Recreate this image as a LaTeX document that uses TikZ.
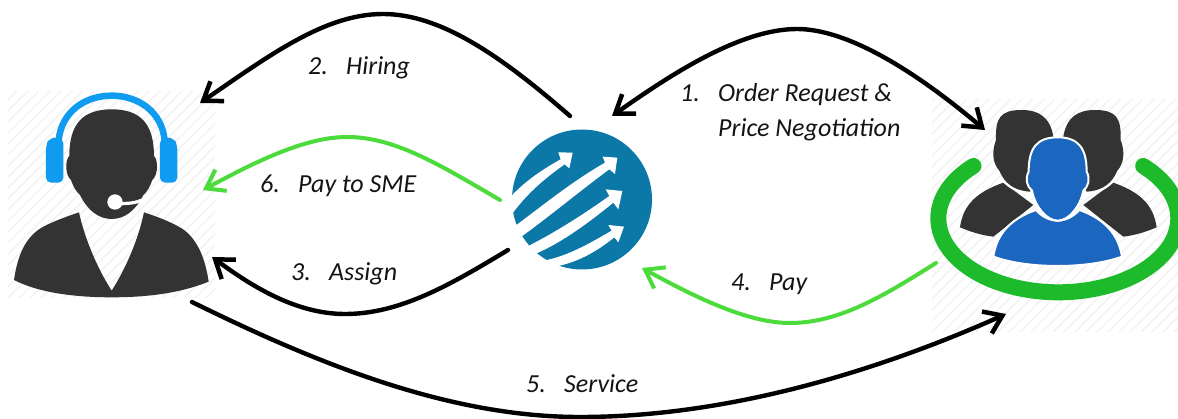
\documentclass[tikz,border=0pt]{standalone}
\usepackage{fontspec}
\setmainfont{Carlito}
\usetikzlibrary{arrows.meta}
\definecolor{dark}{HTML}{333333}
\definecolor{hb}{HTML}{0F9BEF}
\definecolor{logoblue}{HTML}{0B78A8}
\definecolor{ringgreen}{HTML}{1DBB2B}
\definecolor{arrgreen}{HTML}{4BDB3A}
\definecolor{frontblue}{HTML}{1B66BF}
\definecolor{hatch}{HTML}{F3F3F3}
\tikzset{
  x=1pt,y=-1pt,
  barb/.tip={Straight Barb[length=17pt,width=24pt,line width=4.5pt]},
  blackconn/.style={line width=4.4pt,line cap=round,draw=black,-barb},
  greenconn/.style={line width=4pt,line cap=round,draw=arrgreen,-{Straight Barb[length=17pt,width=24pt,line width=4pt]}},
  biconn/.style={line width=4.4pt,draw=black,barb-barb},
  lab/.style={font=\fontsize{26}{30}\selectfont\itshape,anchor=base west,inner sep=0pt,text=black!92},
  anchorbox/.style={inner sep=0pt,minimum size=10pt},
  hatchline/.style={draw=hatch,line width=1.6pt}
}
\newcommand{\numlab}[2]{\makebox[38pt][l]{#1}#2}
\begin{document}
\begin{tikzpicture}
\useasboundingbox (0,0) rectangle (1178,419);
\fill[white] (0,0) rectangle (1178,419);
% hatching
\begin{scope}
\clip (8,92) rectangle (215,298);
\foreach \i in {0,11,...,440} \draw[hatchline] (8+\i,298) -- (8+\i+210,88);
\foreach \i in {11,22,...,220} \draw[hatchline] (8-\i,298) -- (8-\i+210,88);
\end{scope}
\begin{scope}
\clip (932,100) rectangle (1178,332);
\foreach \i in {0,11,...,480} \draw[hatchline] (932+\i,332) -- (932+\i+236,96);
\foreach \i in {11,22,...,240} \draw[hatchline] (932-\i,332) -- (932-\i+236,96);
\end{scope}
% named anchors
\node[anchorbox] (agent) at (112,195) {};
\node[anchorbox] (logo) at (582,199.5) {};
\node[anchorbox] (team) at (1055,215) {};
% agent icon
\begin{scope}[shift={(0,80)},x=0.3333pt,y=-0.3333pt]
\fill[dark] (42,600) .. controls (55,510) and (85,465) .. (130,440) .. controls (165,422) and (200,410) .. (237,397)
  .. controls (255,480) and (295,570) .. (335,632) .. controls (375,570) and (415,480) .. (432,397)
  .. controls (470,410) and (505,422) .. (545,445) .. controls (590,475) and (615,530) .. (626,605)
  .. controls (540,640) and (440,652) .. (335,652) .. controls (230,652) and (120,640) .. (42,600) -- cycle;
\fill[dark] (335,88) .. controls (250,88) and (208,130) .. (208,228) .. controls (195,240) and (195,285) .. (213,300)
  .. controls (220,320) and (228,335) .. (240,345) .. controls (262,390) and (295,417) .. (335,417)
  .. controls (375,417) and (408,390) .. (430,345) .. controls (442,335) and (450,320) .. (457,300)
  .. controls (475,285) and (475,240) .. (462,228) .. controls (462,130) and (420,88) .. (335,88) -- cycle;
\draw[hb,line width=6.5pt] (176,180) .. controls (185,95) and (255,47) .. (335,47) .. controls (415,47) and (485,95) .. (494,180);
\fill[hb,rounded corners=5pt] (138,308) -- (138,195) -- (148,175) -- (172,172) -- (190,175) -- (190,308) -- cycle;
\fill[hb,rounded corners=5pt] (532,308) -- (532,195) -- (522,175) -- (498,172) -- (480,175) -- (480,308) -- cycle;
\draw[white,line width=3.2pt,line cap=round] (355,372) -- (395,369) .. controls (415,366) and (435,358) .. (450,348);
\fill[white] (345,366) circle[radius=23];
\end{scope}
% logo
\fill[logoblue] (logo.center) circle[radius=70];
\begin{scope}[shift={(490,110)},x=0.3333pt,y=-0.3333pt]
\fill[white] (55,268) .. controls (95,222) and (150,182) .. (212,148) -- (205,127) -- (248,128) -- (238,175) -- (224,163)
  .. controls (165,205) and (110,250) .. (62,318) -- cycle;
\fill[white] (70,352) .. controls (160,285) and (250,212) .. (345,158) -- (338,140) -- (382,143) -- (375,192) -- (358,178)
  .. controls (280,235) and (190,310) .. (97,378) -- cycle;
\fill[white] (115,408) .. controls (200,365) and (285,310) .. (358,258) -- (347,238) -- (397,243) -- (385,298) -- (370,278)
  .. controls (300,335) and (220,395) .. (140,430) -- cycle;
\fill[white] (160,452) .. controls (230,440) and (300,400) .. (365,362) -- (355,345) -- (402,350) -- (385,397) -- (373,382)
  .. controls (320,425) and (265,455) .. (205,468) -- cycle;
\end{scope}
% team icon
\begin{scope}[shift={(920,90)},x=0.3333pt,y=-0.3333pt]
\draw[ringgreen,line width=16pt,line cap=round] plot[domain=225:-45,samples=90,smooth] ({415+360*cos(\x)},{385+222*sin(\x)});
\foreach \m/\o in {1/0,-1/830}{
\begin{scope}[shift={(\o,0)},xscale=\m]
\fill[dark] (120,412) .. controls (130,340) and (175,305) .. (250,278) -- (340,345) -- (220,440) .. controls (185,436) and (150,425) .. (120,412) -- cycle;
\draw[white,line width=1.5pt] (250,274) .. controls (270,295) and (290,305) .. (325,312);
\fill[dark] (305,60) .. controls (240,60) and (226,85) .. (228,150) .. controls (213,190) and (220,222) .. (238,242)
  .. controls (253,278) and (280,302) .. (330,305) -- (400,140) .. controls (390,80) and (355,60) .. (305,60) -- cycle;
\end{scope}}
\filldraw[frontblue,draw=white,line width=2pt] (220,500) .. controls (230,430) and (275,385) .. (348,360)
  .. controls (365,380) and (390,392) .. (413,392) .. controls (436,392) and (460,380) .. (478,360)
  .. controls (550,385) and (595,430) .. (606,500) .. controls (550,520) and (480,528) .. (413,528) .. controls (346,528) and (276,520) .. (220,500) -- cycle;
\filldraw[frontblue,draw=white,line width=2pt] (413,142) .. controls (350,142) and (326,175) .. (326,245) .. controls (315,265) and (320,290) .. (336,302)
  .. controls (345,350) and (380,392) .. (413,392) .. controls (446,392) and (481,350) .. (490,302)
  .. controls (506,290) and (511,265) .. (500,245) .. controls (500,175) and (476,142) .. (413,142) -- cycle;
\end{scope}
% connectors
\draw[blackconn] ([shift={(-12,-83.5)}]logo.center) .. controls (500,55) and (440,14) .. (383,14) .. controls (325,14) and (270,55) .. ([shift={(88,-92)}]agent.center);
\draw[biconn] ([shift={(30,-83.5)}]logo.center) .. controls (670,75) and (740,29) .. (797,29) .. controls (850,29) and (920,75) .. ([shift={(-70,-85)}]team.center);
\draw[greenconn] ([shift={(-82,0.5)}]logo.center) .. controls (440,165) and (395,137) .. (347,137) .. controls (305,137) and (255,162) .. ([shift={(91,-5)}]agent.center);
\draw[blackconn] ([shift={(-74,50.5)}]logo.center) .. controls (450,285) and (400,314) .. (345,314) .. controls (295,314) and (250,285) .. ([shift={(100,62)}]agent.center);
\draw[greenconn] ([shift={(-119,48)}]team.center) .. controls (885,295) and (840,323) .. (790,323) .. controls (750,323) and (700,300) .. ([shift={(60,68.5)}]logo.center);
\draw[blackconn] ([shift={(80,107)}]agent.center) .. controls (320,365) and (450,417) .. (580,417) .. controls (730,417) and (880,370) .. ([shift={(-49,99)}]team.center);
% labels
\node[lab] (l2) at (308,75) {\numlab{2.}{Hiring}};
\node[lab] (l1a) at (680,102) {\numlab{1.}{Order Request \&}};
\node[lab] (l1b) at (718,137) {Price Negotiation};
\node[lab] (l6) at (260,193) {\numlab{6.}{Pay to SME}};
\node[lab] (l3) at (291,281) {\numlab{3.}{Assign}};
\node[lab] (l4) at (731,291) {\numlab{4.}{Pay}};
\node[lab] (l5) at (526,392) {\numlab{5.}{Service}};
\end{tikzpicture}
\end{document}
